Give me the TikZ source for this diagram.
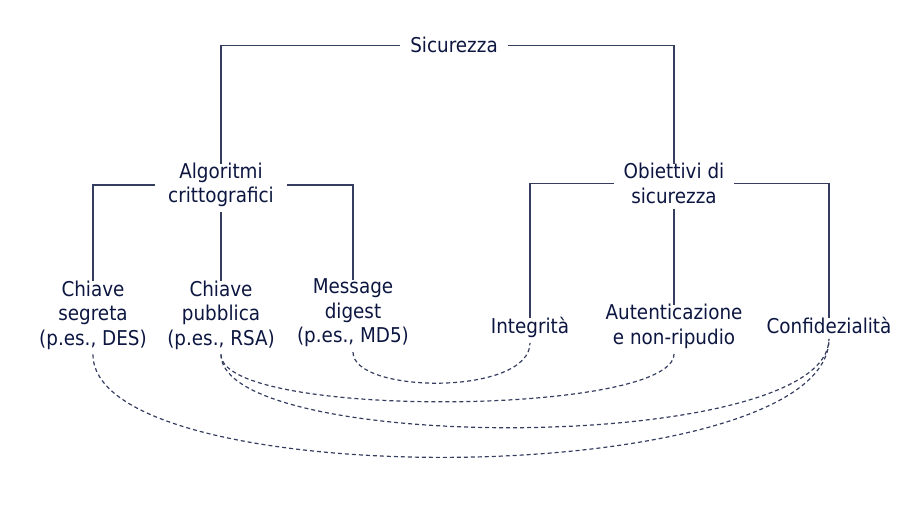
\documentclass[tikz,border=0pt]{standalone}
\usepackage{fontspec}
\setmainfont{DejaVu Sans}[FakeStretch=0.9]
\definecolor{txt}{HTML}{0C1640}
\definecolor{ln}{HTML}{363E60}
\begin{document}
\begin{tikzpicture}[x=1pt,y=-1pt,
  lbl/.style={text=txt,align=center,inner xsep=10pt,inner ysep=5pt,
    font=\fontsize{20.4}{24.5}\selectfont},
  tree/.style={draw=ln,line width=1.1pt},
  link/.style={draw=ln,line width=1.2pt,dash pattern=on 4pt off 3pt}]
\useasboundingbox (0,0) rectangle (914,510);
\node[lbl] (sic) at (454,45.3) {Sicurezza};
\node[lbl,inner xsep=13pt] (alg) at (221,185) {Algoritmi\\crittografici};
\node[lbl] (obi) at (674,183.5) {Obiettivi di\\sicurezza};
\node[lbl] (seg) at (93,314.9) {Chiave\\segreta\\(p.es., DES)};
\node[lbl] (pub) at (221,314.9) {Chiave\\pubblica\\(p.es., RSA)};
\node[lbl] (md) at (353,312.9) {Message\\digest\\(p.es., MD5)};
\node[lbl] (int) at (530,327.4) {Integrità};
\node[lbl] (aut) at (674,326.6) {Autenticazione\\e non-ripudio};
\node[lbl] (con) at (829,325.3) {Confidezialità};
% tree
\draw[tree] (sic.west) -| ([yshift=-6pt]alg.north);
\draw[tree] (sic.east) -| ([yshift=-6pt]obi.north);
\draw[tree] (alg.west) -| ([yshift=-6pt]seg.north);
\draw[tree] (alg.south) -- ([yshift=-6pt]pub.north);
\draw[tree] (alg.east) -| ([yshift=-6pt]md.north);
\draw[tree] (obi.west) -| ([yshift=-6pt]int.north);
\draw[tree] (obi.south) -- ([yshift=-6pt]aut.north);
\draw[tree] (obi.east) -| ([yshift=-6pt]con.north);
% dashed links
\draw[link] (md.south) .. controls +(0,42) and +(0,53) .. (int.south);
\draw[link] (pub.south) .. controls +(0,65) and +(0,62) .. (aut.south);
\draw[link] (pub.south) .. controls +(0,100) and +(0,116) .. (con.south);
\draw[link] (seg.south) .. controls +(0,142) and +(0,153) .. (con.south);
\end{tikzpicture}
\end{document}
